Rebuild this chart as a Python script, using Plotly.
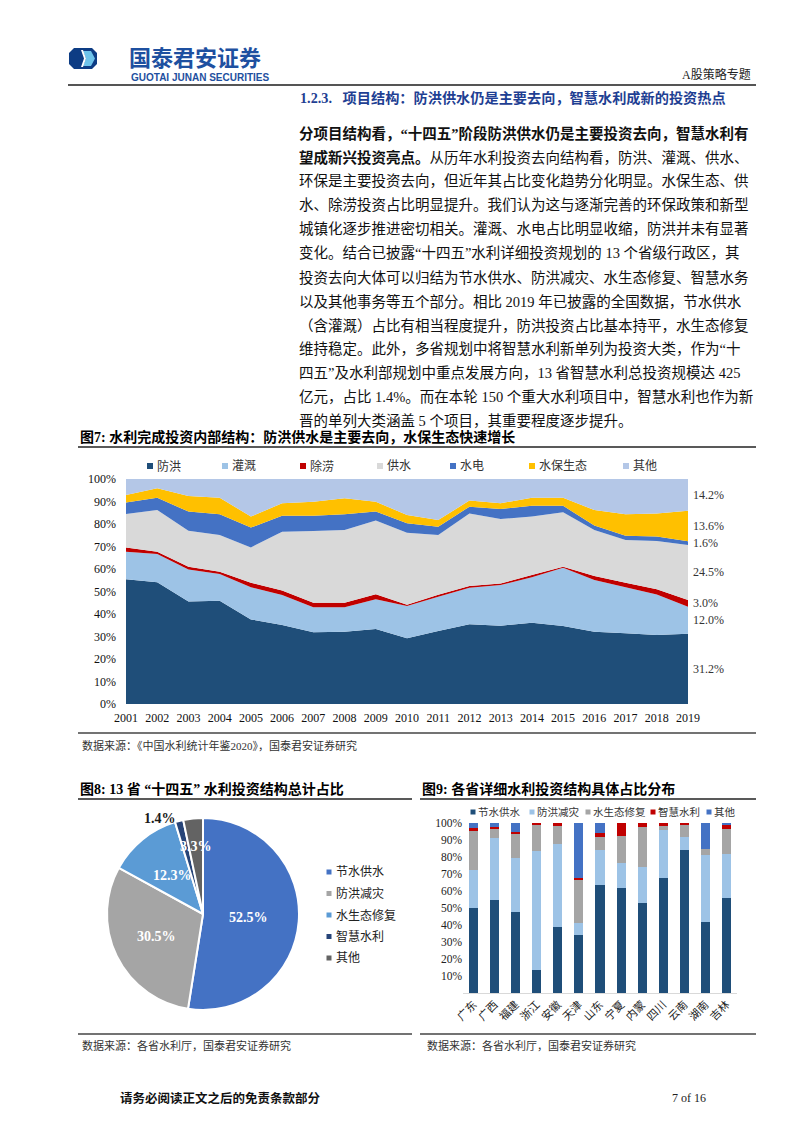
import math
import plotly.graph_objects as go

W, H = 802, 1133
FONT = "Liberation Serif, Noto Sans CJK SC"
SANS = "Noto Sans CJK SC"


def px(x):
    return x / W


def py(y):
    return 1 - y / H


# ---- 图7 水利完成投资内部结构 (%)
years = list(range(2001, 2020))
flood = [55.4, 54.1, 45.5, 45.9, 37.6, 35.1, 31.9, 32.1, 33.3, 29.2, 32.4, 35.4, 34.8, 36.1, 34.7, 32.1, 31.4, 30.7, 31.2]
irrigation = [12.3, 12.6, 14.3, 11.9, 14.3, 13.3, 11.1, 10.9, 13.2, 14.4, 15.3, 16.3, 18.1, 20.2, 25.9, 23.0, 20.5, 18.0, 12.0]
drainage = [1.8, 1.0, 1.2, 1.0, 2.0, 2.0, 2.0, 2.0, 2.3, 0.5, 0.9, 0.7, 0.7, 1.0, 0.4, 1.8, 2.0, 2.3, 3.0]
supply = [14.9, 18.5, 16.0, 16.3, 15.7, 26.2, 31.9, 32.3, 32.7, 32.0, 26.5, 32.3, 28.6, 26.0, 24.2, 20.4, 19.0, 21.4, 24.5]
hydro = [5.1, 5.5, 8.5, 9.2, 8.8, 7.1, 6.8, 7.0, 4.0, 4.2, 3.7, 3.0, 4.5, 4.8, 2.9, 2.0, 1.9, 2.0, 1.6]
ecology = [3.4, 4.2, 6.9, 7.4, 4.9, 5.5, 6.2, 7.1, 4.4, 3.7, 3.0, 2.7, 2.5, 3.6, 3.6, 6.9, 9.5, 10.3, 13.6]
other = [7.1, 4.1, 7.6, 8.3, 16.7, 10.8, 10.1, 8.6, 10.1, 16.0, 18.2, 9.6, 10.8, 8.3, 8.3, 13.8, 15.7, 15.3, 14.2]
area_names = ["防洪", "灌溉", "除涝", "供水", "水电", "水保生态", "其他"]
area_colors = ["#1F4E79", "#9DC3E6", "#C00000", "#D9D9D9", "#4472C4", "#FFC000", "#B4C7E7"]

# ---- 图8 13省"十四五"水利投资结构总计占比 (%)
pie_labels = ["节水供水", "防洪减灾", "水生态修复", "智慧水利", "其他"]
pie_values = [52.5, 30.5, 12.3, 1.4, 3.3]
pie_colors = ["#4472C4", "#A5A5A5", "#5B9BD5", "#264478", "#636363"]

# ---- 图9 各省详细水利投资结构 (%)
provinces = ["广东", "广西", "福建", "浙江", "安徽", "天津", "山东", "宁夏", "内蒙", "四川", "云南", "湖南", "吉林"]
water_supply = [50.0, 54.7, 47.5, 13.7, 39.1, 34.2, 63.5, 61.5, 52.7, 67.4, 84.0, 42.0, 56.1]
flood_control = [22.3, 36.7, 32.0, 70.1, 48.8, 6.8, 20.5, 14.7, 21.5, 28.7, 7.8, 39.1, 25.9]
eco_restore = [22.8, 5.3, 14.6, 14.8, 10.3, 26.0, 7.8, 16.0, 23.5, 2.1, 7.4, 3.5, 14.7]
smart_water = [2.0, 1.0, 0.6, 1.4, 1.8, 0.8, 2.5, 7.8, 2.3, 1.8, 0.8, 0.0, 1.9]
others = [2.9, 2.3, 5.3, 0.0, 0.0, 32.2, 5.7, 0.0, 0.0, 0.0, 0.0, 15.4, 1.4]
bar_names = ["节水供水", "防洪减灾", "水生态修复", "智慧水利", "其他"]
bar_colors = ["#1F4E79", "#9DC3E6", "#A5A5A5", "#C00000", "#4472C4"]

fig = go.Figure()

area_series = [flood, irrigation, drainage, supply, hydro, ecology, other]
for name, vals, col in zip(area_names, area_series, area_colors):
    fig.add_trace(go.Scatter(x=years, y=vals, name=name, stackgroup="one", mode="none",
                             fillcolor=col, xaxis="x", yaxis="y"))

bar_series = [water_supply, flood_control, eco_restore, smart_water, others]
for name, vals, col in zip(bar_names, bar_series, bar_colors):
    fig.add_trace(go.Bar(x=provinces, y=vals, name=name, marker=dict(color=col, line=dict(width=0)),
                         xaxis="x2", yaxis="y2"))

# pie: centre (203, 914), radius 96
pcx, pcy, pr = 203, 914, 96
fig.add_trace(go.Pie(labels=pie_labels, values=pie_values, sort=False, direction="clockwise",
                     rotation=0, textinfo="none", hoverinfo="label+percent", automargin=False,
                     marker=dict(colors=pie_colors, line=dict(color="white", width=2)),
                     domain=dict(x=[px(pcx - pr), px(pcx + pr)], y=[py(pcy + pr), py(pcy - pr)])))

ann = []
shapes = []


def text(x, y, s, size=14, color="#111", anchor="left", family=FONT, yanchor="middle"):
    ann.append(dict(x=px(x), y=py(y), xref="paper", yref="paper", text=s, showarrow=False,
                    xanchor=anchor, yanchor=yanchor, font=dict(size=size, color=color, family=family)))


def hline(x0, x1, y, color="#222", width=1.5):
    shapes.append(dict(type="line", xref="paper", yref="paper", x0=px(x0), x1=px(x1),
                       y0=py(y), y1=py(y), line=dict(color=color, width=width)))


def square(x, y, s, color):
    shapes.append(dict(type="rect", xref="paper", yref="paper", x0=px(x - s / 2), x1=px(x + s / 2),
                       y0=py(y + s / 2), y1=py(y - s / 2), fillcolor=color, line=dict(width=0)))


def path(points, fill):
    d = "M " + " L ".join(f"{px(a):.5f},{py(b):.5f}" for a, b in points) + " Z"
    shapes.append(dict(type="path", xref="paper", yref="paper", path=d, fillcolor=fill, line=dict(width=0)))


# header / logo
path([(74, 48), (92, 48), (97, 53), (97, 64), (92, 69), (74, 69), (69, 64), (69, 53)], "#0D3C84")
path([(83, 51), (91, 51), (95, 58.5), (91, 66), (83, 66), (86, 58.5)], "#6EC3EA")
path([(81, 50), (83, 50), (86, 58.5), (83, 67), (81, 67), (84, 58.5)], "white")
text(127, 55.5, "<b>国泰君安证券</b>", size=22, color="#1E50A0", family=SANS)
text(129, 78, "<b>GUOTAI JUNAN SECURITIES</b>", size=10, color="#1E50A0", family="Liberation Sans")
text(753, 74, "A股策略专题", size=12, color="#222", anchor="right")
hline(68, 756, 85, color="#555", width=2)

text(298, 98, "<b>1.2.3.   项目结构：防洪供水仍是主要去向，智慧水利成新的投资热点</b>", size=14.2, color="#1F3F93")

body = [
    "<b>分项目结构看，“十四五”阶段防洪供水仍是主要投资去向，智慧水利有</b>",
    "<b>望成新兴投资亮点。</b>从历年水利投资去向结构看，防洪、灌溉、供水、",
    "环保是主要投资去向，但近年其占比变化趋势分化明显。水保生态、供",
    "水、除涝投资占比明显提升。我们认为这与逐渐完善的环保政策和新型",
    "城镇化逐步推进密切相关。灌溉、水电占比明显收缩，防洪并未有显著",
    "变化。结合已披露“十四五”水利详细投资规划的 13 个省级行政区，其",
    "投资去向大体可以归结为节水供水、防洪减灾、水生态修复、智慧水务",
    "以及其他事务等五个部分。相比 2019 年已披露的全国数据，节水供水",
    "（含灌溉）占比有相当程度提升，防洪投资占比基本持平，水生态修复",
    "维持稳定。此外，多省规划中将智慧水利新单列为投资大类，作为“十",
    "四五”及水利部规划中重点发展方向，13 省智慧水利总投资规模达 425",
    "亿元，占比 1.4%。而在本轮 150 个重大水利项目中，智慧水利也作为新",
    "晋的单列大类涵盖 5 个项目，其重要程度逐步提升。",
]
for i, line in enumerate(body):
    text(297, 133 + 24 * i, line, size=14.5, color="#111")

# figure 7 frame
text(78, 437, "<b>图7: 水利完成投资内部结构：防洪供水是主要去向，水保生态快速增长</b>", size=14, color="#000")
hline(78, 756, 447)
legend_x = [150, 225, 303, 380, 453, 532, 626]
for lx, name, col in zip(legend_x, area_names, area_colors):
    square(lx, 466, 6, col)
    text(lx + 5, 466, name, size=12, color="#333")
hline(78, 756, 733, color="#444", width=1.5)
text(80, 745, "数据来源：《中国水利统计年鉴2020》，国泰君安证券研究", size=11, color="#333")

# 2019 end labels, at the middle of each stacked band
cum = 0
for vals in area_series:
    v = vals[-1]
    ann.append(dict(x=years[-1], y=cum + v / 2, xref="x", yref="y", text=f"{v:.1f}%", showarrow=False,
                    xanchor="left", xshift=3, font=dict(size=12, color="#333", family=FONT)))
    cum += v

# figure 8
text(78, 789, "<b>图8: 13 省 “十四五” 水利投资结构总计占比</b>", size=14, color="#000")
hline(78, 412, 799)
hline(78, 412, 1034, color="#444")
text(80, 1045, "数据来源：各省水利厅，国泰君安证券研究", size=11, color="#333")
label_r = [0.48, 0.54, 0.51, 1.03, 0.71]
label_anchor = ["center", "center", "center", "right", "center"]
label_color = ["white", "white", "white", "#1a1a1a", "white"]
total = sum(pie_values)
cum = 0
for v, rf, anc, col in zip(pie_values, label_r, label_anchor, label_color):
    mid = (cum + v / 2) / total * 2 * math.pi
    lx = pcx + math.sin(mid) * pr * rf
    ly = pcy - math.cos(mid) * pr * rf
    text(lx, ly, f"<b>{v:.1f}%</b>", size=14, color=col, anchor=anc)
    cum += v
for i, (name, col) in enumerate(zip(pie_labels, pie_colors)):
    yy = 872 + 21.5 * i
    square(329, yy, 5, col)
    text(334, yy, name, size=12, color="#222")

# figure 9
text(420, 789, "<b>图9: 各省详细水利投资结构具体占比分布</b>", size=14, color="#000")
hline(420, 756, 799)
hline(420, 756, 1034, color="#444")
text(425, 1045, "数据来源：各省水利厅，国泰君安证券研究", size=11, color="#333")
bar_leg_x = [473, 532, 588, 653, 709]
for lx, name, col in zip(bar_leg_x, bar_names, bar_colors):
    square(lx, 812, 5, col)
    text(lx + 3, 812, name, size=10.5, color="#333")

# footer
text(118, 1098, "<b>请务必阅读正文之后的免责条款部分</b>", size=12.5, color="#111")
text(708, 1098, "7 of 16", size=12, color="#222", anchor="right")

pct = [f"{v}%" for v in range(0, 101, 10)]
fig.update_layout(
    width=W, height=H, margin=dict(l=0, r=0, t=0, b=0, pad=0, autoexpand=False),
    paper_bgcolor="white", plot_bgcolor="white", showlegend=False,
    barmode="stack", bargap=0.57,
    font=dict(family=FONT, size=12, color="#000"),
    xaxis=dict(domain=[px(126), px(688)], range=[2001, 2019], tickvals=years, showgrid=False,
               zeroline=False, showline=False, ticks="", ticklabelstandoff=5, automargin=False,
               tickfont=dict(size=12, color="#111")),
    yaxis=dict(domain=[py(704), py(479)], range=[0, 100], tickvals=list(range(0, 101, 10)), ticktext=pct,
               showgrid=False, zeroline=False, showline=False, ticks="", ticklabelstandoff=9, automargin=False,
               tickfont=dict(size=12, color="#111")),
    xaxis2=dict(domain=[px(463), px(737)], anchor="y2", type="category", tickangle=-45, showgrid=False,
                showline=True, linecolor="#D9D9D9", linewidth=1, ticks="", automargin=False,
                tickfont=dict(size=11, color="#222")),
    yaxis2=dict(domain=[py(993), py(823)], anchor="x2", range=[0, 100], tickvals=list(range(10, 101, 10)),
                ticktext=pct[1:], showgrid=False, zeroline=False, showline=False, ticks="", automargin=False,
                tickfont=dict(size=11.5, color="#222")),
    annotations=ann, shapes=shapes,
)

# page body margin off, so the 802x1133 figure fills the window exactly
fig.write_html("out.html", config={"displayModeBar": False},
               post_script="document.body.style.margin='0';document.body.style.overflow='hidden';")
